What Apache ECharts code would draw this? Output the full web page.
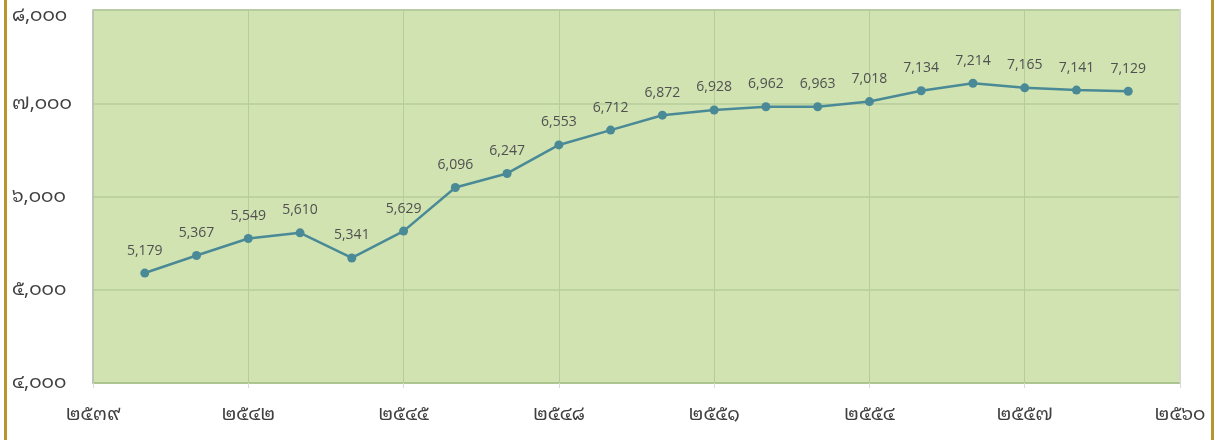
<!DOCTYPE html>
<html><head><meta charset="utf-8">
<script src="https://cdn.jsdelivr.net/npm/echarts@6/dist/echarts.min.js"></script>
<style>
html,body{margin:0;padding:0;background:#fff;}
#wrap{position:absolute;left:0;top:0;width:1217px;height:440px;}
#bl{position:absolute;left:4px;top:0;width:3px;height:440px;background:#b8962e;}
#br{position:absolute;left:1211px;top:0;width:3px;height:440px;background:#b8962e;}
#c{position:absolute;left:0;top:0;width:1217px;height:440px;}
</style></head>
<body><div id="wrap"><div id="c"></div><div id="bl"></div><div id="br"></div></div>
<script>
const years = [2540,2541,2542,2543,2544,2545,2546,2547,2548,2549,2550,2551,2552,2553,2554,2555,2556,2557,2558,2559];
const values = [5179,5367,5549,5610,5341,5629,6096,6247,6553,6712,6872,6928,6962,6963,7018,7134,7214,7165,7141,7129];
const xStart = 2539, xEnd = 2560, xStep = 3;
const yMin = 4000, yMax = 8000, yStep = 1000;
const thaiDigits = ['๐','๑','๒','๓','๔','๕','๖','๗','๘','๙'];
function toThai(s){return String(s).replace(/[0-9]/g,d=>thaiDigits[+d]);}
function fmt(n){return n.toLocaleString('en-US');}
const thaiFont = '"Noto Sans Thai Looped","Noto Sans Thai",Tahoma,sans-serif';
const chart = echarts.init(document.getElementById('c'));
chart.setOption({
  animation:false,
  grid:{left:93,right:37,top:10,bottom:57,show:true,backgroundColor:'#d1e3b1',borderColor:'#b3c09e',borderWidth:1.5},
  xAxis:{type:'value',min:0,max:xEnd-xStart,interval:xStep,
    axisLine:{show:true,lineStyle:{color:'#a9c28c',width:1.5}},
    axisTick:{show:true,length:5,lineStyle:{color:'#d9d9d9'}},
    splitLine:{show:true,lineStyle:{color:'#b5cc9b',width:1}},
    axisLabel:{formatter:v=>toThai(v+xStart),fontSize:19,color:'#404040',margin:22,fontFamily:thaiFont}},
  yAxis:{type:'value',min:yMin,max:yMax,interval:yStep,
    axisLine:{show:false},axisTick:{show:false},
    splitLine:{show:true,lineStyle:{color:'#b5cc9b',width:1.5}},
    axisLabel:{formatter:v=>v===yMax?'{t|'+toThai(fmt(v))+'}':toThai(fmt(v)),
      rich:{t:{padding:[12,0,0,0],fontSize:19,color:'#404040',fontFamily:thaiFont}},
      fontSize:19,color:'#404040',align:'left',margin:81,fontFamily:thaiFont}},
  series:[{type:'line',data:years.map((y,i)=>[y-xStart,values[i]]),
    lineStyle:{color:'#4a8a97',width:2.5},itemStyle:{color:'#4a8a97'},
    symbol:'circle',symbolSize:9,
    label:{show:true,position:'top',distance:11,formatter:p=>fmt(p.value[1]),fontSize:14,color:'#505050',fontFamily:'"Open Sans",sans-serif'}},
   {type:'line',data:[[0,yMin],[0,yMax]],symbol:'none',lineStyle:{color:'#bfbfbf',width:1.5},silent:true,z:5},
   {type:'line',data:[[xEnd-xStart,yMin],[xEnd-xStart,yMax]],symbol:'none',lineStyle:{color:'#dcdcdc',width:1.5},silent:true,z:5}]
});
</script></body></html>
